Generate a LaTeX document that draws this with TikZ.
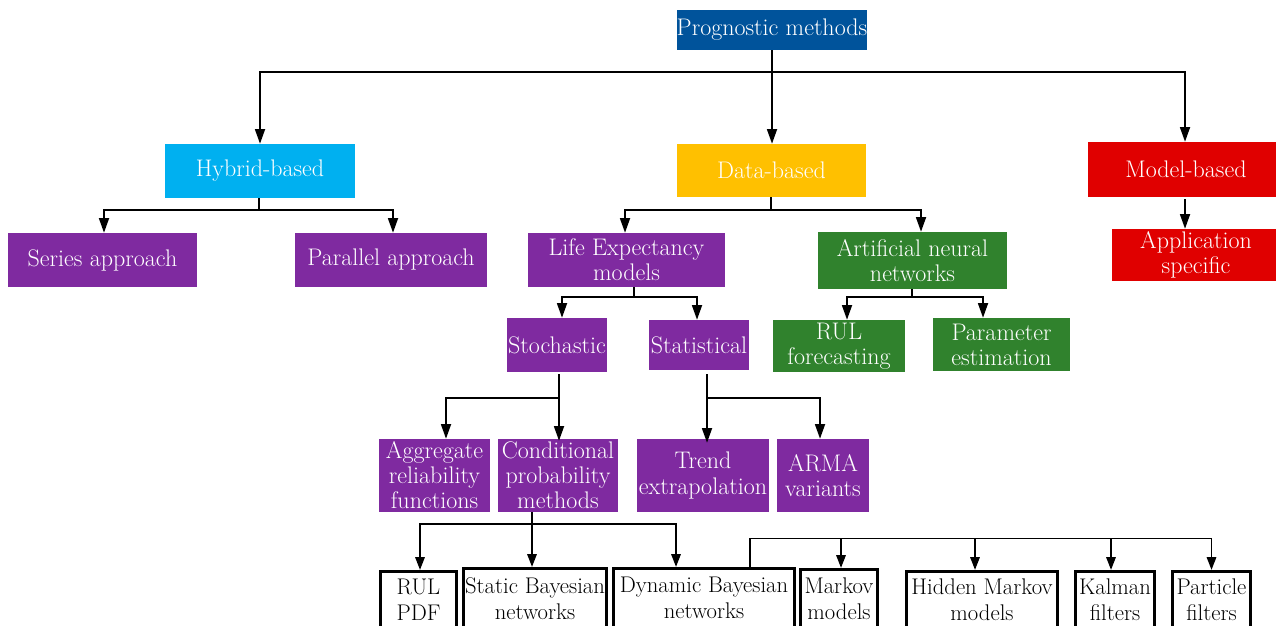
\documentclass[tikz,border=0pt]{standalone}
\usetikzlibrary{arrows.meta}
\definecolor{cRoot}{RGB}{0,83,155}
\definecolor{cHyb}{RGB}{0,176,240}
\definecolor{cData}{RGB}{255,192,0}
\definecolor{cModel}{RGB}{224,0,0}
\definecolor{cPurple}{RGB}{127,42,160}
\definecolor{cGreen}{RGB}{48,130,45}
\begin{document}
\begin{tikzpicture}[x=0.75pt,y=-0.75pt,
  box/.style={inner sep=0pt, align=center, font=\fontsize{18}{18.8}\selectfont},
  fillbox/.style={box, fill=#1, text=white},
  leaf/.style={box, draw=black, line width=2.4pt, text=black,
               font=\fontsize{17}{19.5}\selectfont},
  sz/.style 2 args={minimum width=#1*0.75pt, minimum height=#2*0.75pt},
  conn/.style={line width=1.3pt, draw=black},
  arr/.style={conn, -{Triangle[length=11pt,width=7.5pt]}},
  sarr/.style={conn, -{Triangle[length=9.5pt,width=7pt]}}]

\useasboundingbox (0,0) rectangle (1276,625);
\fill[white] (0,0) rectangle (1276,625);
\clip (0,0) rectangle (1276,625);

% ---- coloured category boxes
\node[fillbox=cRoot, sz={190}{40}] (root) at (772,30) {Prognostic methods};
\node[fillbox=cHyb, sz={190}{54}] (hyb) at (260,171) {Hybrid-based};
\node[fillbox=cData, sz={189}{53}] (data) at (771.5,170.5) {Data-based};
\node[fillbox=cModel, sz={196}{55}] (model) at (1186,169.5) {Model-based};
\node[fillbox=cModel, sz={168}{52}] (app) at (1196,255) {Application\\specific};
\node[fillbox=cPurple, sz={189}{54}] (series) at (102.5,260) {Series approach};
\node[fillbox=cPurple, sz={192}{54}] (parallel) at (391,260) {Parallel approach};
\node[fillbox=cPurple, sz={197}{54}] (life) at (626.5,260) {Life Expectancy\\models};
\node[fillbox=cGreen, sz={189}{57}] (ann) at (912.5,260.5) {Artificial neural\\networks};
\node[fillbox=cPurple, sz={100}{54}] (stoch) at (557,345) {Stochastic};
\node[fillbox=cPurple, sz={100}{50}] (stat) at (699,345) {Statistical};
\node[fillbox=cGreen, sz={132}{52}] (rulf) at (839,346) {RUL\\forecasting};
\node[fillbox=cGreen, sz={137}{53}] (param) at (1001.5,344.5) {Parameter\\estimation};
\node[fillbox=cPurple, sz={111}{73}] (aggr) at (434.5,475.5) {Aggregate\\reliability\\functions};
\node[fillbox=cPurple, sz={120}{73}] (cond) at (558,475.5) {Conditional\\probability\\methods};
\node[fillbox=cPurple, sz={132}{73}] (trend) at (703,475.5) {Trend\\extrapolation};
\node[fillbox=cPurple, sz={92}{73}] (arma) at (823,475.5) {ARMA\\variants};

% ---- outlined method boxes along the bottom edge
\node[leaf, sz={76}{56.5}] (rulpdf) at (418.5,599.75) {RUL\\PDF};
\node[leaf, sz={143}{59.5}] (static) at (535,598.25) {Static Bayesian\\networks};
\node[leaf, sz={181}{59.5}] (dyn) at (704,598.25) {Dynamic Bayesian\\networks};
\node[leaf, sz={77}{58.5}] (markov) at (839,598.75) {Markov\\models};
\node[leaf, sz={151}{56.5}] (hidden) at (982,599.75) {Hidden Markov\\models};
\node[leaf, sz={79}{56.5}] (kalman) at (1115,599.75) {Kalman\\filters};
\node[leaf, sz={78}{56.5}] (particle) at (1211.5,599.75) {Particle\\filters};

% ---- top level
\coordinate (tb) at (772,72);
\draw[arr] (root.south) -- (root.south |- data.north);
\draw[arr] (tb) -| (hyb.north);
\draw[arr] (tb) -| ([shift={(-1,0)}]model.north);
\draw[arr] ([shift={(-1,2)}]model.south) -- ([shift={(-1,0)}]model.south |- app.north);

% ---- hybrid branch
\draw[conn] ([shift={(-1,0)}]hyb.south) -- ++(0,12) coordinate (hb);
\draw[arr] (hb) -| ([shift={(1.5,0)}]series.north);
\draw[arr] (hb) -| ([shift={(2,0)}]parallel.north);

% ---- data branch
\draw[conn] ([shift={(-0.5,0)}]data.south) -- ++(0,13) coordinate (db);
\draw[arr] (db) -| ([shift={(-1.5,0)}]life.north);
\draw[arr] (db) -| ([shift={(8.5,0)}]ann.north);

\draw[conn] ([shift={(7.5,0)}]life.south) -- ++(0,10) coordinate (lb);
\draw[arr] (lb) -| ([shift={(5,0)}]stoch.north);
\draw[arr] (lb) -| ([shift={(-2,0)}]stat.north);

\draw[conn] ([shift={(-0.5,0)}]ann.south) -- ++(0,8) coordinate (ab);
\draw[arr] (ab) -| ([shift={(8,0)}]rulf.north);
\draw[arr] (ab) -| ([shift={(-18.5,0)}]param.north);

% ---- stochastic / statistical
\draw[arr] ([shift={(2,2)}]stoch.south) -- ([shift={(2,2)}]stoch.south |- cond.north);
\coordinate (sb) at ([shift={(2,26)}]stoch.south);
\draw[arr] (sb) -| ([shift={(11.5,0)}]aggr.north);

\draw[arr] ([shift={(8,4)}]stat.south) -- ([shift={(8,4)}]stat.south |- trend.north);
\coordinate (stb) at ([shift={(8,28)}]stat.south);
\draw[arr] (stb) -| ([shift={(-3,0)}]arma.north);

% ---- conditional probability methods
\draw[sarr] ([shift={(-26,0)}]cond.south) -- ([shift={(-26,0)}]cond.south |- static.north);
\coordinate (cb) at ([shift={(-26,12)}]cond.south);
\draw[sarr] (cb) -| ([shift={(1.5,0)}]rulpdf.north);
\draw[sarr] (cb) -| ([shift={(-28,0)}]dyn.north);

% ---- dynamic Bayesian networks family
\draw[conn] ([shift={(46,0)}]dyn.north) -- ++(0,-28.5) coordinate (mb);
\draw[sarr] (mb) -| ([shift={(2,0)}]markov.north);
\draw[sarr] (mb) -| ([shift={(-7,0)}]hidden.north);
\draw[sarr] (mb) -| ([shift={(-4,0)}]kalman.north);
\draw[sarr] (mb) -| (particle.north);
\end{tikzpicture}
\end{document}
